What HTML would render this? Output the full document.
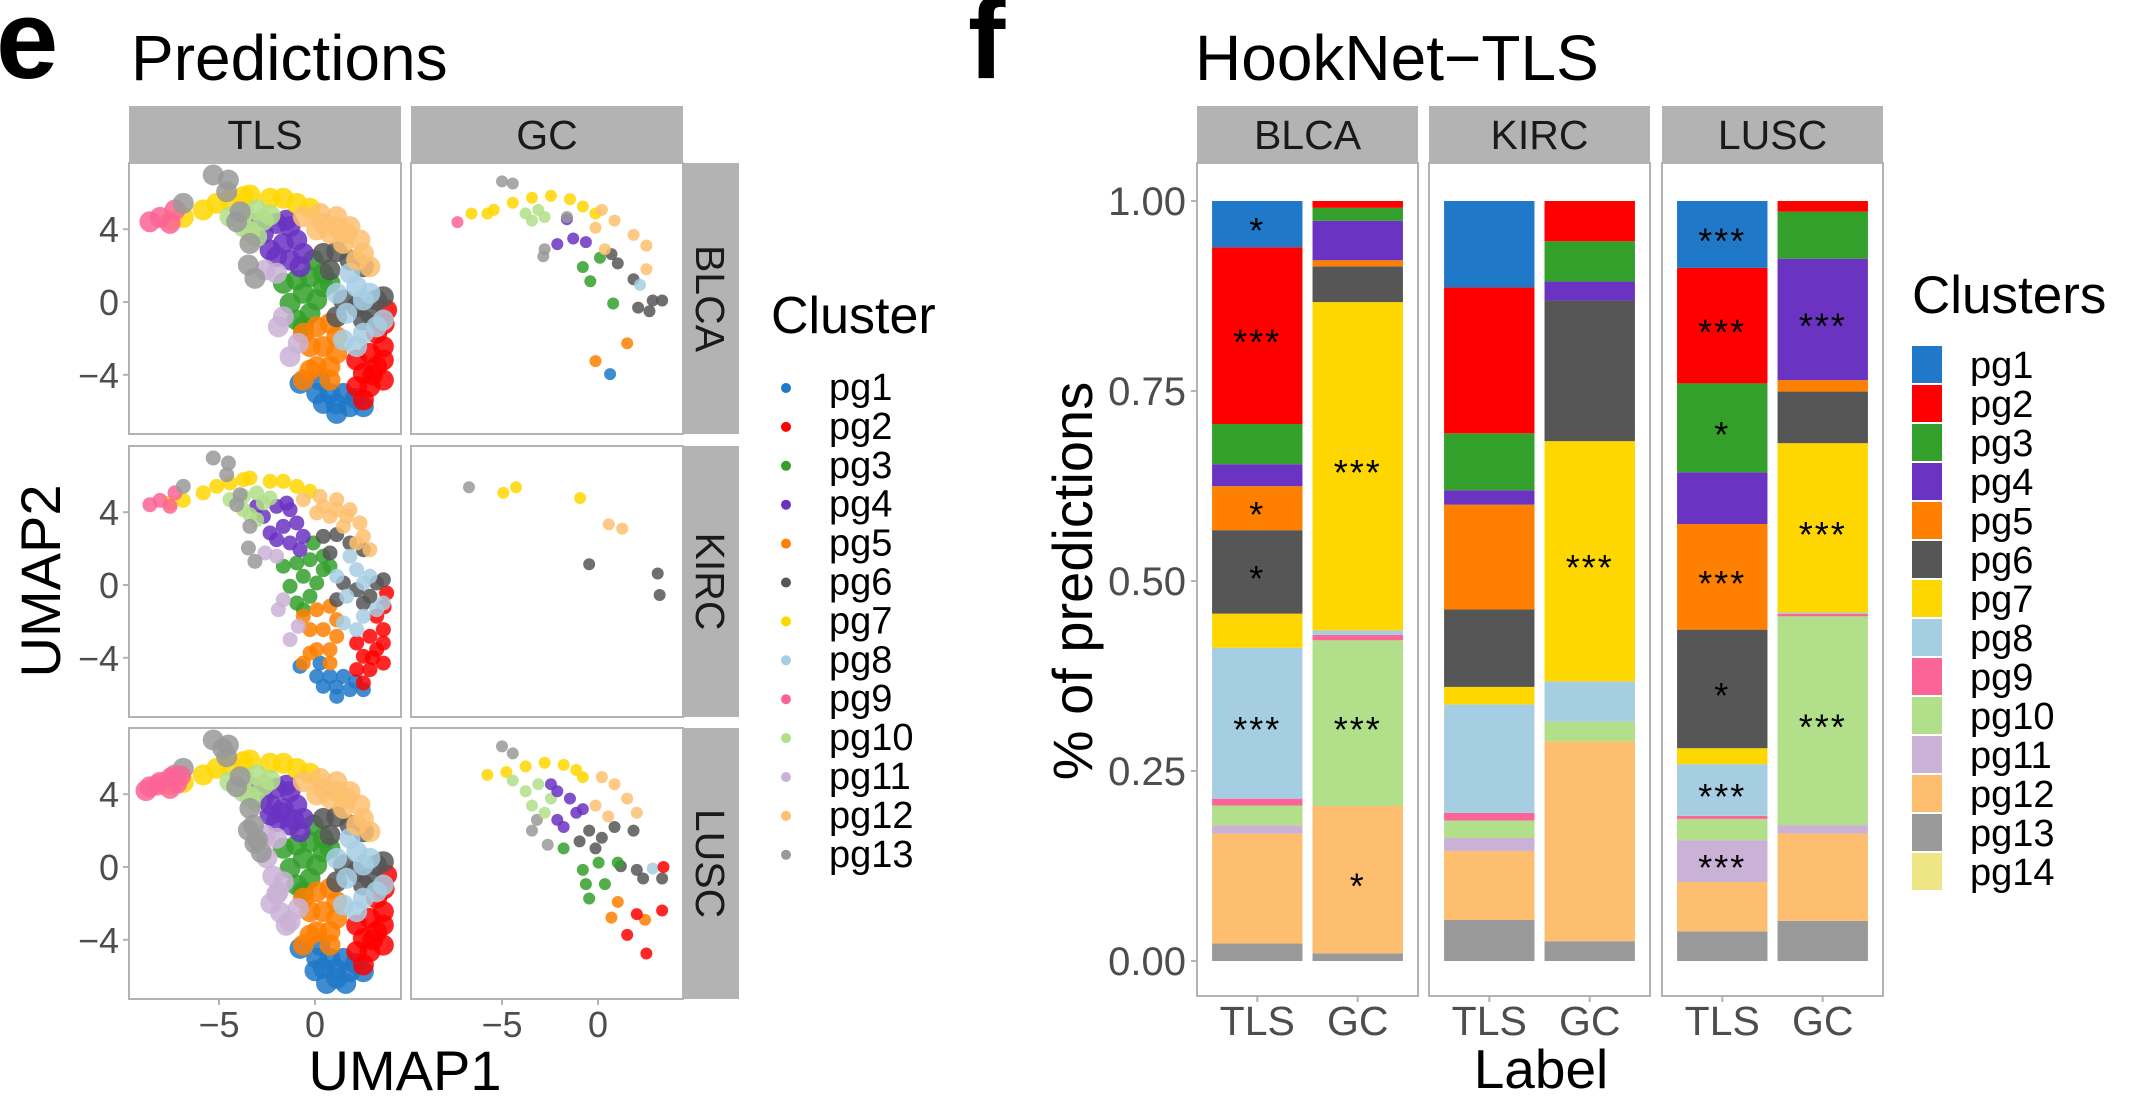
<!DOCTYPE html>
<html><head><meta charset="utf-8"><style>
html,body{margin:0;padding:0;background:#fff;}
svg{display:block;font-family:"Liberation Sans",Arial,sans-serif;}
</style></head><body>
<svg id="fig" width="2146" height="1114" viewBox="0 0 2146 1114" xmlns="http://www.w3.org/2000/svg">
<rect width="2146" height="1114" fill="#fff"/>
<text x="-4" y="78" font-size="112" font-weight="bold">e</text>
<text x="131" y="80" font-size="64">Predictions</text>
<text x="968" y="78" font-size="112" font-weight="bold">f</text>
<text x="1195" y="80" font-size="64">HookNet−TLS</text>
<g id="scatter"></g>
<g id="bars"></g>
</svg>
<script>
const NS="http://www.w3.org/2000/svg";
const colors=["#1f78c8","#ff0000","#33a02c","#6a33c2","#ff7f00","#565656","#ffd700","#a6cee3","#fb6496","#b2df8a","#cab2d6","#fdbf6f","#999999","#eee685"];
const clusterNames=["pg1","pg2","pg3","pg4","pg5","pg6","pg7","pg8","pg9","pg10","pg11","pg12","pg13","pg14"];

// ---------- Bar chart data ----------
const facets=["BLCA","KIRC","LUSC"];
const labels=["TLS","GC"];
const blcaTLS=[0.061,0.233,0.053,0.029,0.058,0.110,0.045,0.199,0.009,0.026,0.011,0.145,0.023,0];
const blcaGC=[0,0.009,0.017,0.052,0.008,0.047,0.432,0.006,0.007,0.218,0,0.194,0.010,0];
const kircTLS=[0.114,0.192,0.075,0.019,0.138,0.102,0.023,0.143,0.010,0.023,0.017,0.091,0.054,0];
const kircGC=[0,0.053,0.053,0.025,0,0.185,0.316,0.053,0,0.026,0,0.263,0.026,0];
const luscTLS=[0.088,0.152,0.117,0.068,0.139,0.156,0.021,0.068,0.004,0.028,0.055,0.065,0.039,0];
const luscGC=[0,0.014,0.062,0.160,0.015,0.068,0.223,0.002,0.003,0.275,0.011,0.115,0.053,0];
const barValues=[[blcaTLS,blcaGC],[kircTLS,kircGC],[luscTLS,luscGC]];
const yTicks=[0,0.25,0.5,0.75,1];
const yTickLabels=["0.00","0.25","0.50","0.75","1.00"];
const stars=[[0,0,0,"*"],[0,0,1,"***"],[0,0,4,"*"],[0,0,5,"*"],[0,0,7,"***"],
[0,1,6,"***"],[0,1,9,"***"],[0,1,11,"*"],[1,1,6,"***"],
[2,0,0,"***"],[2,0,1,"***"],[2,0,2,"*"],[2,0,4,"***"],[2,0,5,"*"],[2,0,7,"***"],[2,0,10,"***"],
[2,1,3,"***"],[2,1,6,"***"],[2,1,9,"***"]];

// ---------- Scatter data (UMAP1, UMAP2) ----------
const tlsBase=[
[0,[[-0.78,-4.47],[0.09,-5.02],[0.43,-5.57],[1.13,-6.12],[1.82,-5.75],[2.52,-5.75],[0.78,-5.02],[1.48,-5.02],[0.26,-4.29],[1.1,-5.6],[2.1,-5.3]]],
[1,[[2.17,-3.19],[2.86,-2.82],[3.56,-2.45],[2.52,-3.92],[3.21,-3.55],[3.56,-3.19],[2.17,-4.65],[2.86,-4.65],[3.56,-4.29],[2.52,-5.38],[3.21,-1.72],[3.73,-0.44],[3.0,-4.0],[3.6,-1.2]]],
[2,[[-1.65,1.03],[-0.95,1.21],[-0.26,1.39],[0.43,1.58],[0.78,1.03],[-0.61,0.48],[-1.3,-0.07],[0.09,0.11],[-0.26,-0.62],[-0.95,-0.99],[-0.61,-1.36],[0.43,0.84],[-0.09,2.31]]],
[3,[[-2.69,3.77],[-2.0,4.32],[-1.3,4.14],[-1.65,3.22],[-0.95,3.41],[-0.61,2.67],[-2.0,2.49],[-1.3,2.31],[-2.34,2.86],[-0.78,1.94],[-1.48,4.5],[-3.04,4.32]]],
[4,[[-0.61,-1.72],[0.09,-1.36],[0.78,-1.17],[-0.26,-2.45],[0.43,-2.45],[1.13,-2.82],[0.09,-3.55],[0.78,-3.55],[1.13,-1.91],[-0.26,-3.74],[-0.61,-4.29],[0.78,-4.29]]],
[5,[[0.43,2.67],[1.13,2.77],[1.82,2.31],[2.52,1.94],[1.48,0.11],[2.17,-0.26],[2.86,-0.62],[3.21,0.11],[3.56,0.29],[0.78,1.76],[1.13,-0.81],[2.52,-0.99]]],
[6,[[-5.82,5.06],[-5.12,5.42],[-4.43,5.6],[-3.73,5.79],[-3.39,5.88],[-2.34,5.7],[-1.65,5.7],[-0.95,5.42],[-0.26,5.15],[-6.86,4.65],[-7.55,4.5]]],
[7,[[1.82,1.58],[2.17,0.84],[2.52,0.11],[2.86,0.48],[1.65,-0.62],[2.52,-1.72],[3.21,-1.36],[3.56,-0.99],[2.17,-2.45],[1.48,-2.09],[1.13,0.48]]],
[8,[[-8.6,4.41],[-8.07,4.65],[-7.55,4.32],[-7.29,5.06]]],
[9,[[-4.43,4.69],[-3.73,4.87],[-3.04,5.06],[-2.34,4.78],[-3.73,4.14],[-3.04,3.59],[-3.39,3.86],[-2.69,4.5]]],
[10,[[-2.6,1.76],[-2.0,1.58],[-1.65,-0.81],[-1.91,-1.36],[-0.87,-2.27],[-1.3,-3.0]]],
[11,[[-0.61,4.69],[0.26,4.87],[1.13,4.69],[1.82,4.14],[2.34,3.41],[0.78,3.77],[1.48,3.22],[0.09,3.96],[2.52,2.67],[2.86,1.94],[2.17,2.31],[1.13,4.14],[0.43,4.32],[1.65,3.77]]],
[12,[[-5.3,6.98],[-4.51,6.7],[-4.6,6.06],[-6.86,5.42],[-3.9,4.96],[-3.39,3.22],[-3.47,2.03],[-3.13,1.3],[-4.08,4.41]]]
];
const luscExtra=[
[10,[[-2.2,-0.5],[-2.0,-1.5],[-1.8,-2.5],[-2.5,0.5],[-1.5,-3.2],[-2.3,-2.0]]],
[12,[[-3.0,1.5],[-2.8,0.8],[-3.2,2.3],[-4.8,6.5]]],
[8,[[-7.5,4.9],[-7.0,5.0],[-8.2,4.5],[-8.8,4.2],[-7.2,4.6]]],
[3,[[-1.8,3.0],[-1.1,2.6],[-2.3,3.4]]],
[0,[[0.0,-5.7],[1.6,-6.4],[0.6,-6.4]]]
];
const scBlcaGC=[
[0,[[0.63,-3.96]]],
[2,[[-0.79,1.92],[-0.4,1.14],[0.1,2.43],[0.79,-0.08]]],
[3,[[-2.12,3.18],[-1.29,3.49],[-0.63,3.29],[-1.62,4.55]]],
[4,[[1.52,-2.27],[-0.13,-3.25]]],
[5,[[0.7,2.63],[1.03,2.12],[1.85,1.25],[2.09,-0.31],[2.68,-0.51],[2.85,0.08],[3.34,0.08]]],
[6,[[-6.59,4.86],[-5.43,5.06],[-4.44,5.45],[-3.44,5.73],[-2.45,5.84],[-1.46,5.65],[-0.79,5.25],[-0.13,4.86],[-5.76,4.86]]],
[7,[[2.19,0.94]]],
[8,[[-7.32,4.39]]],
[9,[[-3.77,4.86],[-3.11,5.06],[-2.78,4.67],[-3.44,4.47]]],
[11,[[0.2,5.06],[0.86,4.47],[1.85,3.69],[2.52,3.1],[2.52,1.8],[0.36,2.9],[-0.13,4.08]]],
[12,[[-5.0,6.63],[-4.44,6.51],[-2.78,2.9],[-2.85,2.51],[-1.62,4.67]]]
];
const scKircGC=[
[12,[[-6.72,5.37]]],
[6,[[-4.93,5.06],[-4.27,5.37],[-0.93,4.78]]],
[11,[[0.56,3.33],[1.26,3.1]]],
[5,[[-0.46,1.14],[3.11,0.63],[3.21,-0.55]]]
];
const scLuscGC=[
[12,[[-5.0,6.63],[-4.44,6.24],[-3.18,2.59],[-3.44,2.0],[-2.62,1.22]]],
[6,[[-5.76,5.06],[-4.77,5.22],[-3.77,5.53],[-2.78,5.73],[-1.79,5.61],[-1.13,5.33],[-0.79,4.94]]],
[9,[[-4.44,4.75],[-3.77,4.16],[-3.11,4.55],[-2.45,3.76],[-3.44,3.37],[-2.78,2.98]]],
[3,[[-2.12,4.16],[-1.46,3.76],[-2.12,2.59],[-1.13,2.98],[-1.79,2.2],[-0.79,3.18],[-2.45,4.55]]],
[11,[[0.2,4.94],[0.86,4.55],[-0.13,3.37],[0.53,2.78],[2.02,2.98],[1.52,3.76]]],
[5,[[-0.46,2.0],[0.2,1.61],[0.86,2.2],[1.85,2.0],[-0.13,1.02],[1.19,0.04],[2.02,-0.16],[2.35,-0.63],[3.34,-0.63],[-0.96,1.41]]],
[2,[[-1.79,1.02],[-0.79,-0.16],[-0.63,-0.94],[0.03,0.24],[0.36,-0.94],[1.03,0.24],[-0.46,-1.73]]],
[7,[[2.85,-0.08]]],
[4,[[1.03,-1.92],[0.7,-2.78],[2.45,-2.9]]],
[1,[[3.41,0],[3.34,-2.39],[2.02,-2.59],[1.52,-3.73],[2.52,-4.75]]]
];
const scatterPanels=[
 {row:0,col:0,groups:tlsBase,r:10.5},
 {row:0,col:1,groups:scBlcaGC,r:6},
 {row:1,col:0,groups:tlsBase,r:7.5},
 {row:1,col:1,groups:scKircGC,r:6},
 {row:2,col:0,groups:tlsBase.concat(luscExtra),r:10.5},
 {row:2,col:1,groups:scLuscGC,r:6}
];
const umapXTicks=[-5,0];
const umapYTicks=[4,0,-4];
const rowNames=["BLCA","KIRC","LUSC"];
const colNames=["TLS","GC"];

function el(tag,attrs,parent,txt){const e=document.createElementNS(NS,tag);for(const k in attrs)e.setAttribute(k,attrs[k]);if(txt!==undefined)e.textContent=txt;parent.appendChild(e);return e;}

const sg=document.getElementById('scatter');
const colX=[129,411], colW=272, rowY=[163,446,728], rowH=271;
const zeroX=[315,598], zeroY=[302,585,867];
const sx=(c,v)=>zeroX[c]+v*19.2;
const sy=(r,v)=>zeroY[r]-v*18.2;
const defs=el('defs',{},sg);
for(let r=0;r<3;r++)for(let c=0;c<2;c++){
  const cp=el('clipPath',{id:'cp'+r+c},defs);
  el('rect',{x:colX[c],y:rowY[r],width:colW,height:rowH},cp);
}
colNames.forEach((n,c)=>{
  const s=el('rect',{x:colX[c],y:106,width:colW,height:57,fill:'#b3b3b3'},sg);
  
  
  const t=el('text',{x:colX[c]+colW/2,y:149,'font-size':41,'text-anchor':'middle',fill:'#1a1a1a'},sg,n);
  
  
});
rowNames.forEach((n,r)=>{
  const s=el('rect',{x:683,y:rowY[r],width:56,height:rowH,fill:'#b3b3b3'},sg);
  
  
  const cy=rowY[r]+rowH/2;
  const t=el('text',{x:696,y:cy,'font-size':41,'text-anchor':'middle',fill:'#1a1a1a',transform:'rotate(90 696 '+cy+')'},sg,n);
  
  
});
scatterPanels.forEach(p=>{
  const g=el('g',{'clip-path':'url(#cp'+p.row+p.col+')'},sg);
  
  
  p.groups.forEach(([ci,pts])=>{
    pts.forEach(([x,y])=>{
      const d=el('circle',{cx:sx(p.col,x),cy:sy(p.row,y),r:p.r,fill:colors[ci],'fill-opacity':0.85},g);
      
      
    });
  });
  el('rect',{x:colX[p.col],y:rowY[p.row],width:colW,height:rowH,fill:'none',stroke:'#b3b3b3','stroke-width':2},sg);
});
rowNames.forEach((n,r)=>{
  umapYTicks.forEach(v=>{
    el('line',{x1:123,x2:129,y1:sy(r,v),y2:sy(r,v),stroke:'#b3b3b3','stroke-width':2},sg);
    const t=el('text',{x:119,y:sy(r,v)+13,'font-size':36,'text-anchor':'end',fill:'#4d4d4d'},sg,v<0?'−'+(-v):String(v));
    
    
  });
});
colNames.forEach((n,c)=>{
  umapXTicks.forEach(v=>{
    el('line',{x1:sx(c,v),x2:sx(c,v),y1:999,y2:1005,stroke:'#b3b3b3','stroke-width':2},sg);
    const t=el('text',{x:sx(c,v),y:1037,'font-size':36,'text-anchor':'middle',fill:'#4d4d4d'},sg,v<0?'−'+(-v):String(v));
    
    
  });
});
let t=el('text',{x:405,y:1090,'font-size':56,'text-anchor':'middle'},sg,'UMAP1');

t=el('text',{x:60,y:581,'font-size':56,'text-anchor':'middle',transform:'rotate(-90 60 581)'},sg,'UMAP2');

t=el('text',{x:771,y:333,'font-size':52},sg,'Cluster');

for(let i=0;i<13;i++){
  const y=400+i*38.9;
  const g=el('g',{},sg);
  
  
  el('circle',{cx:786,cy:y-12,r:5,fill:colors[i]},g);
  el('text',{x:829,y:y,'font-size':38},g,clusterNames[i]);
}

const bg=document.getElementById('bars');
const facetX=[1197,1429,1662], facetW=221, unit=facetW/2.2;
const yb=v=>961-v*760;
facets.forEach((f,fi)=>{
  const s=el('rect',{x:facetX[fi],y:106,width:facetW,height:57,fill:'#b3b3b3'},bg);
  
  
  const st=el('text',{x:facetX[fi]+facetW/2,y:149,'font-size':41,'text-anchor':'middle',fill:'#1a1a1a'},bg,f);
  
  
  el('rect',{x:facetX[fi],y:163,width:facetW,height:833,fill:'none',stroke:'#b3b3b3','stroke-width':2},bg);
  labels.forEach((lb,li)=>{
    const cx=facetX[fi]+unit*(0.6+li);
    const vals=barValues[fi][li];
    const tot=vals.reduce((a,b)=>a+b,0);
    let cum=0;
    for(let ci=vals.length-1;ci>=0;ci--){
      const v=vals[ci]/tot;
      if(v>0){
        const r=el('rect',{x:cx-unit*0.45,y:yb(cum+v),width:unit*0.9,height:yb(cum)-yb(cum+v),fill:colors[ci]},bg);
        
        
      }
      cum+=v;
    }
    el('line',{x1:cx,x2:cx,y1:996,y2:1002,stroke:'#b3b3b3','stroke-width':2},bg);
    const xt=el('text',{x:cx,y:1035,'font-size':41,'text-anchor':'middle',fill:'#4d4d4d'},bg,lb);
    
    
  });
});
stars.forEach(([fi,li,ci,txt])=>{
  const vals=barValues[fi][li];
  const tot=vals.reduce((a,b)=>a+b,0);
  let below=0;for(let k=ci+1;k<vals.length;k++)below+=vals[k];
  const mid=(below+vals[ci]/2)/tot;
  const cx=facetX[fi]+unit*(0.6+li);
  const s=el('text',{x:cx,y:yb(mid)+19,'font-size':36,'text-anchor':'middle','letter-spacing':2},bg,txt);
  
  
});
yTicks.forEach((v,i)=>{
  el('line',{x1:1191,x2:1197,y1:yb(v),y2:yb(v),stroke:'#b3b3b3','stroke-width':2},bg);
  const yt=el('text',{x:1186,y:yb(v)+14,'font-size':40,'text-anchor':'end',fill:'#4d4d4d'},bg,yTickLabels[i]);
  
  
});
t=el('text',{x:1092,y:581,'font-size':56,'text-anchor':'middle',transform:'rotate(-90 1092 581)'},bg,'% of predictions');

t=el('text',{x:1541,y:1088,'font-size':55,'text-anchor':'middle'},bg,'Label');

t=el('text',{x:1912,y:313,'font-size':53},bg,'Clusters');

for(let i=0;i<14;i++){
  const y=346+i*39;
  const g=el('g',{},bg);
  
  
  el('rect',{x:1912,y:y,width:30,height:37,fill:colors[i]},g);
  el('text',{x:1970,y:y+32,'font-size':38},g,clusterNames[i]);
}
</script>
</body></html>
